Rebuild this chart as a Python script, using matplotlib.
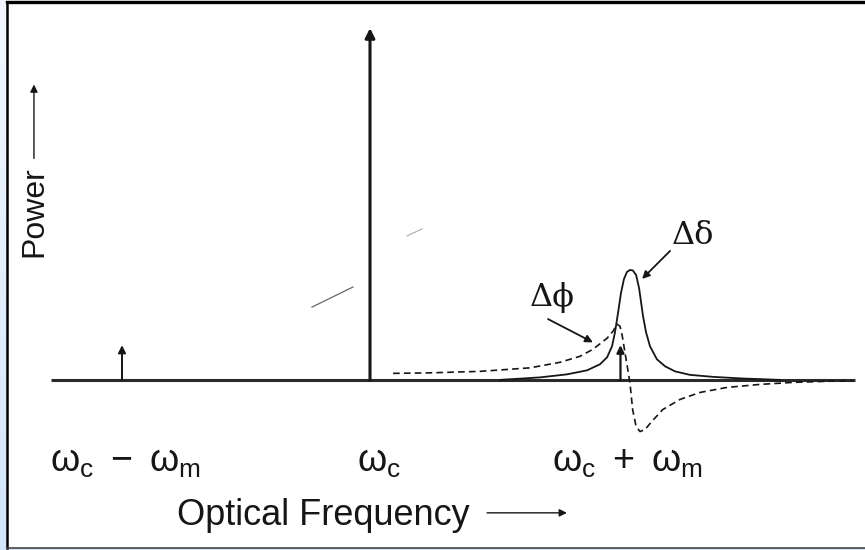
import matplotlib
matplotlib.use("Agg")
import matplotlib.pyplot as plt
import numpy as np

plt.rcParams['font.family'] = ['Liberation Sans', 'DejaVu Sans']
plt.rcParams['mathtext.fontset'] = 'custom'
plt.rcParams['mathtext.rm'] = 'Liberation Sans'
plt.rcParams['mathtext.it'] = 'Liberation Sans'

# frequency offset from carrier in units where w_m = 100; power where carrier = 100
line_pos = [-100, 0, 101]
line_pow = [10, 100, 10]
freq_labels = [r'$\mathrm{\omega_c\ -\ \omega_m}$', r'$\mathrm{\omega_c}$',
               r'$\mathrm{\omega_c\ +\ \omega_m}$']
freq_label_x = [-129, -5.2, 73.4]

# amplitude-modulation sideband (solid, delta-delta)
amp_x = [52.4, 68.5, 79.4, 87.5, 92.7, 95.6, 97.6, 98.8, 100.0, 101.2, 102.4,
         103.6, 104.8, 106.0, 107.3, 108.5, 109.3, 110.1, 111.3, 112.9, 115.7,
         119.0, 123.0, 129.0, 138.3, 149.2, 165.3]
amp_y = [0.14, 0.85, 1.71, 2.85, 4.56, 6.55, 9.69, 13.68, 19.09, 24.79, 28.77,
         30.77, 31.34, 31.2, 29.91, 26.21, 22.22, 18.23, 13.68, 9.69, 5.98,
         3.99, 2.56, 1.57, 1.0, 0.57, 0.14]

# phase-modulation sideband (dashed, delta-phi)
phase_x = [9.3, 24.2, 44.4, 64.5, 76.6, 84.7, 89.9, 95.6, 98.0, 99.6, 100.8,
           101.6, 102.6, 103.6, 104.8, 105.9, 107.3, 108.9, 110.9, 113.6, 118.1,
           125.0, 133.1, 144.0, 157.3, 170.6, 186.7, 194.8]
phase_y = [1.99, 2.14, 2.56, 3.56, 5.13, 6.84, 8.83, 11.97, 13.96, 15.95, 15.38,
           13.1, 8.83, 4.56, -0.57, -8.26, -13.1, -14.53, -13.96, -11.68, -8.26,
           -5.41, -3.42, -1.99, -1.14, -0.57, -0.2, -0.2]

ink = '#161616'

fig = plt.figure(figsize=(8.65, 5.5), dpi=100)

# light blue page strip behind the frame
bg = fig.add_axes([0, 0, 1, 1])
grad = np.linspace(0, 1, 100).reshape(-1, 1)
bg.imshow(grad, aspect='auto', cmap=matplotlib.colors.LinearSegmentedColormap.from_list(
    'pg', ['#f2f7fe', '#d2e5fa']), extent=[0, 1, 0, 1])
bg.axis('off')

ax = fig.add_axes([7 / 865, 2 / 550, 1 - 7 / 865, 546 / 550])
ax.set_facecolor('white')
ax.set_xlim(-146.37, 199.6)
ax.set_ylim(-47.58, 107.41)
ax.set_xticks([])
ax.set_yticks([])
ax.spines['right'].set_visible(False)
ax.spines['top'].set_linewidth(2.4)
ax.spines['left'].set_linewidth(1.8)
ax.spines['bottom'].set_linewidth(1.2)
ax.spines['bottom'].set_color('#444444')
for s in ('top', 'left'):
    ax.spines[s].set_color('black')

# baseline
ax.plot([-128.6, 195.6], [0, 0], color='#2a2a2a', lw=2.2, solid_capstyle='butt')

# spectral lines
for xp, pw, lw, ms in zip(line_pos, line_pow, [1.4, 2.2, 1.6], [11, 14, 11]):
    ax.annotate('', xy=(xp, pw), xytext=(xp, 0),
                arrowprops=dict(arrowstyle='-|>', color=ink, lw=lw,
                                mutation_scale=ms, shrinkA=0, shrinkB=0))

ax.plot(amp_x, amp_y, color=ink, lw=1.3)
ax.plot(phase_x, phase_y, color=ink, lw=1.2, linestyle=(0, (4, 2.5)))

# scan specks
ax.plot([-23.4, -6.9], [20.8, 26.5], color='#666666', lw=0.9)
ax.plot([14.9, 21.0], [41.0, 43.0], color='#aaaaaa', lw=0.8)

# frequency labels
for lab, lx in zip(freq_labels, freq_label_x):
    ax.text(lx, -25.9, lab, fontsize=27, color=ink, ha='left', va='baseline')

# sideband annotations
ax.text(64.5, 21.1, 'Δϕ', fontsize=23, color=ink, ha='left',
        va='baseline', family='DejaVu Serif')
ax.text(121.8, 38.7, 'Δδ', fontsize=23, color=ink, ha='left',
        va='baseline', family='DejaVu Serif')
ax.annotate('', xy=(89.9, 10.8), xytext=(71.8, 17.4),
            arrowprops=dict(arrowstyle='-|>', color=ink, lw=1.3,
                            mutation_scale=11, shrinkA=0, shrinkB=0))
ax.annotate('', xy=(109.7, 28.8), xytext=(121.0, 36.75),
            arrowprops=dict(arrowstyle='-|>', color=ink, lw=1.3,
                            mutation_scale=11, shrinkA=0, shrinkB=0))

# axis captions
ax.text(-77.8, -41.0, 'Optical Frequency', fontsize=26, color=ink,
        ha='left', va='baseline')
ax.annotate('', xy=(79.4, -37.6), xytext=(47.2, -37.6),
            arrowprops=dict(arrowstyle='-|>', color=ink, lw=1.0,
                            mutation_scale=11, shrinkA=0, shrinkB=0))
ax.text(-135.5, 35.0, 'Power', fontsize=23, color=ink, rotation=90,
        ha='center', va='bottom')
ax.annotate('', xy=(-135.5, 84.0), xytext=(-135.5, 63.0),
            arrowprops=dict(arrowstyle='-|>', color=ink, lw=1.0,
                            mutation_scale=11, shrinkA=0, shrinkB=0))

fig.savefig('out.png', dpi=100)
